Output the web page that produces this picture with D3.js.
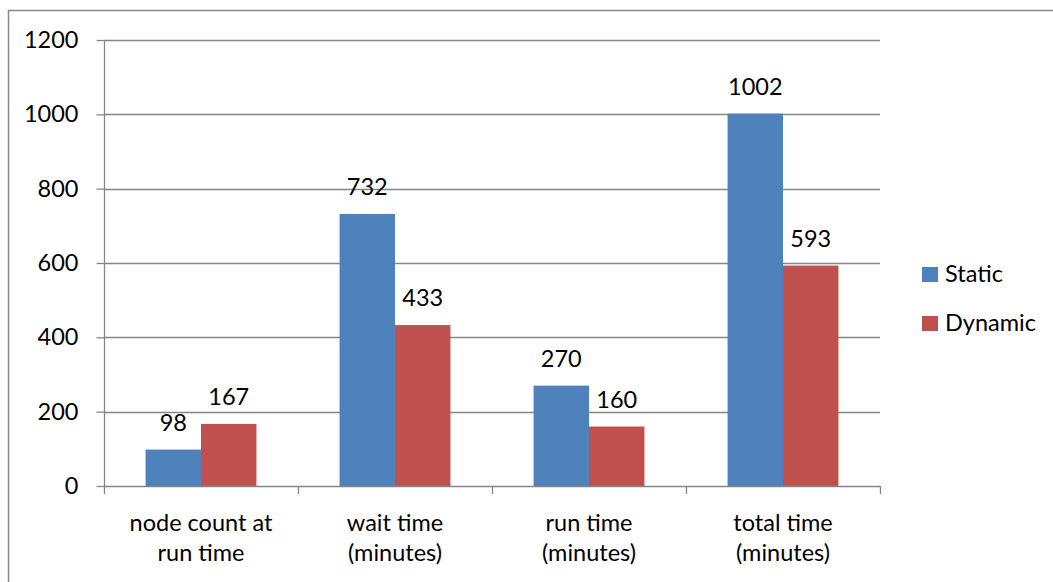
<!DOCTYPE html>
<html>
<head>
<meta charset="utf-8">
<script src="https://cdn.jsdelivr.net/npm/d3@7"></script>
<style>
  html, body { margin: 0; padding: 0; background: #fff; }
  svg text { font-family: Lato, "Open Sans", sans-serif; fill: #000; }
</style>
</head>
<body>
<svg id="chart" width="1053" height="582"></svg>
<script>
const categories = [
  ["node count at", "run time"],
  ["wait time", "(minutes)"],
  ["run time", "(minutes)"],
  ["total time", "(minutes)"]
];
const seriesNames = ["Static", "Dynamic"];
const staticValues = [98, 732, 270, 1002];
const dynamicValues = [167, 433, 160, 593];
const yTicks = [0, 200, 400, 600, 800, 1000, 1200];
const colors = ["#4F81BD", "#C0504D"];

const FONT_SIZE = 23.5;
const svg = d3.select("#chart");
const plot = { left: 104, right: 880, top: 40, bottom: 486 };

// outer chart frame
svg.append("rect")
  .attr("x", 8.5).attr("y", 10.5)
  .attr("width", 1100).attr("height", 700)
  .attr("fill", "none").attr("stroke", "#888").attr("stroke-width", 1.5);

const x0 = d3.scaleBand()
  .domain(d3.range(categories.length))
  .range([plot.left, plot.right])
  .paddingInner(0).paddingOuter(0);

// two bars per group, gap of 150% of a bar width between groups
const x1 = d3.scaleBand()
  .domain(d3.range(seriesNames.length))
  .range([0, x0.bandwidth()])
  .paddingInner(0)
  .paddingOuter(0.75);

const y = d3.scaleLinear().domain([0, 1200]).range([plot.bottom, plot.top]);

// horizontal gridlines
svg.append("g").selectAll("line").data(yTicks.filter(d => d > 0)).join("line")
  .attr("x1", plot.left).attr("x2", plot.right)
  .attr("y1", d => Math.round(y(d)) + 0.5).attr("y2", d => Math.round(y(d)) + 0.5)
  .attr("stroke", "#868686").attr("stroke-width", 1.3);

// y axis
const yAxis = svg.append("g")
  .attr("transform", `translate(${plot.left + 0.5},0)`)
  .call(d3.axisLeft(y).tickValues(yTicks).tickFormat(d3.format("d")).tickSize(8).tickPadding(18));
yAxis.selectAll("path, line").attr("stroke", "#868686").attr("stroke-width", 1.3);
yAxis.select(".domain").attr("d", `M0,${plot.top}V${plot.bottom}`);
yAxis.selectAll("text").attr("font-size", FONT_SIZE).attr("font-family", "Lato, sans-serif").attr("fill", "#000");

// bars
const data = categories.map((c, i) => [staticValues[i], dynamicValues[i]]);
const groups = svg.append("g").selectAll("g").data(data).join("g")
  .attr("transform", (d, i) => `translate(${x0(i)},0)`);

groups.selectAll("rect").data(d => d).join("rect")
  .attr("x", (d, j) => x1(j))
  .attr("width", x1.bandwidth())
  .attr("y", d => y(d))
  .attr("height", d => y(0) - y(d))
  .attr("fill", (d, j) => colors[j]);

// value labels
groups.selectAll("text").data(d => d).join("text")
  .attr("x", (d, j) => x1(j) + x1.bandwidth() / 2)
  .attr("y", d => y(d) - 19)
  .attr("text-anchor", "middle")
  .attr("font-size", FONT_SIZE)
  .text(d => d);

// x axis
const xAxisG = svg.append("g");
xAxisG.append("line")
  .attr("x1", plot.left).attr("x2", plot.right)
  .attr("y1", plot.bottom + 0.5).attr("y2", plot.bottom + 0.5)
  .attr("stroke", "#868686").attr("stroke-width", 1.3);
const boundaries = d3.range(categories.length + 1).map(i => i < categories.length ? x0(i) : plot.right);
xAxisG.selectAll("line.tick").data(boundaries).join("line")
  .attr("class", "tick")
  .attr("x1", d => Math.round(d) + 0.5).attr("x2", d => Math.round(d) + 0.5)
  .attr("y1", plot.bottom).attr("y2", plot.bottom + 8)
  .attr("stroke", "#868686").attr("stroke-width", 1.3);

const catLabels = xAxisG.selectAll("text").data(categories).join("text")
  .attr("text-anchor", "middle")
  .attr("font-size", FONT_SIZE)
  .attr("transform", (d, i) => `translate(${x0(i) + x0.bandwidth() / 2},0)`);
catLabels.selectAll("tspan").data(d => d).join("tspan")
  .attr("x", 0)
  .attr("y", (d, k) => 531 + k * 30)
  .text(d => d);

// legend
const legend = svg.append("g").attr("transform", "translate(922,0)");
const legendY = [267, 316];
seriesNames.forEach((name, j) => {
  legend.append("rect")
    .attr("x", 0).attr("y", legendY[j])
    .attr("width", 16).attr("height", 15)
    .attr("fill", colors[j]);
  legend.append("text")
    .attr("x", 23).attr("y", legendY[j] + 15)
    .attr("font-size", FONT_SIZE)
    .text(name);
});
</script>
</body>
</html>
